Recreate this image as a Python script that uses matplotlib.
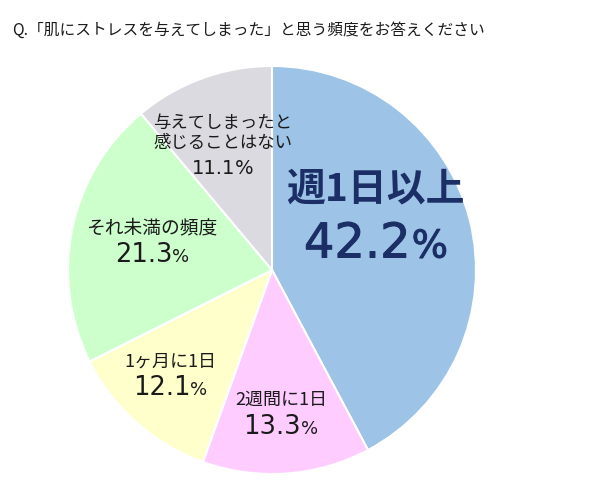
import matplotlib
matplotlib.use("Agg")
import matplotlib.pyplot as plt
import matplotlib.patheffects as pe
from matplotlib.offsetbox import TextArea, HPacker, AnnotationBbox

plt.rcParams['font.family'] = ['Noto Sans CJK JP', 'DejaVu Sans']

title = "Q.「肌にストレスを与えてしまった」と思う頻度をお答えください"
categories = ["週1日以上", "2週間に1日", "1ヶ月に1日", "それ未満の頻度", "与えてしまったと\n感じることはない"]
values = [42.2, 13.3, 12.1, 21.3, 11.1]
colors = ["#9DC3E6", "#FFCCFF", "#FFFFCC", "#CCFFCC", "#DADAE0"]

fig = plt.figure(figsize=(6.0, 4.98), dpi=100)
ax = fig.add_axes([0, 0, 1, 1])
R = 204.0
cx, cy = 272.0, 270.0
ax.pie(values, colors=colors, startangle=90, counterclock=False,
       wedgeprops=dict(edgecolor="white", linewidth=1.5))
ax.set_xlim(-cx / R, (600 - cx) / R)
ax.set_ylim(-(498 - cy) / R, cy / R)
ax.set_aspect('equal', adjustable='box')
ax.axis('off')

fig.text(12 / 600, 1 - 30 / 498, title, fontsize=11.3, va='center', ha='left', color='#1a1a1a')

def px(x, y):
    return ((x - cx) / R, (cy - y) / R)

# (label pos, number pos, label size, number size, pct size, color, label weight, number stroke, sep)
layout = [
    ((375, 189), (376, 244), 28, 34.5, 27.5, '#1B2F66', 'bold', 0.7, 1),
    ((281, 400), (281, 427), 13, 18.5, 13, '#1a1a1a', 'normal', 0, 0),
    ((170, 362), (170, 388), 13, 18.5, 13, '#1a1a1a', 'normal', 0, 0),
    ((152, 228), (152, 255), 13.5, 18.5, 13, '#1a1a1a', 'normal', 0, 0),
    ((223, 133), (223, 168), 12.5, 14, 14, '#1a1a1a', 'normal', 0, 0),
]

for cat, val, (lp, npos, ls, ns, ps, col, w, sw, sep) in zip(categories, values, layout):
    ax.text(*px(*lp), cat, fontsize=ls, color=col, ha='center', va='center',
            fontweight=w, linespacing=1.1)
    tp = dict(color=col, family='DejaVu Sans')
    if sw > 0:
        tp['path_effects'] = [pe.withStroke(linewidth=sw, foreground=col)]
    num = TextArea(f"{val:.1f}", textprops=dict(fontsize=ns, **tp))
    pct = TextArea("%", textprops=dict(fontsize=ps, **tp))
    box = HPacker(children=[num, pct], align='baseline', pad=0, sep=sep)
    ab = AnnotationBbox(box, px(*npos), xycoords='data', frameon=False,
                        box_alignment=(0.5, 0.5), pad=0)
    ax.add_artist(ab)

fig.savefig("out.png", dpi=100)
